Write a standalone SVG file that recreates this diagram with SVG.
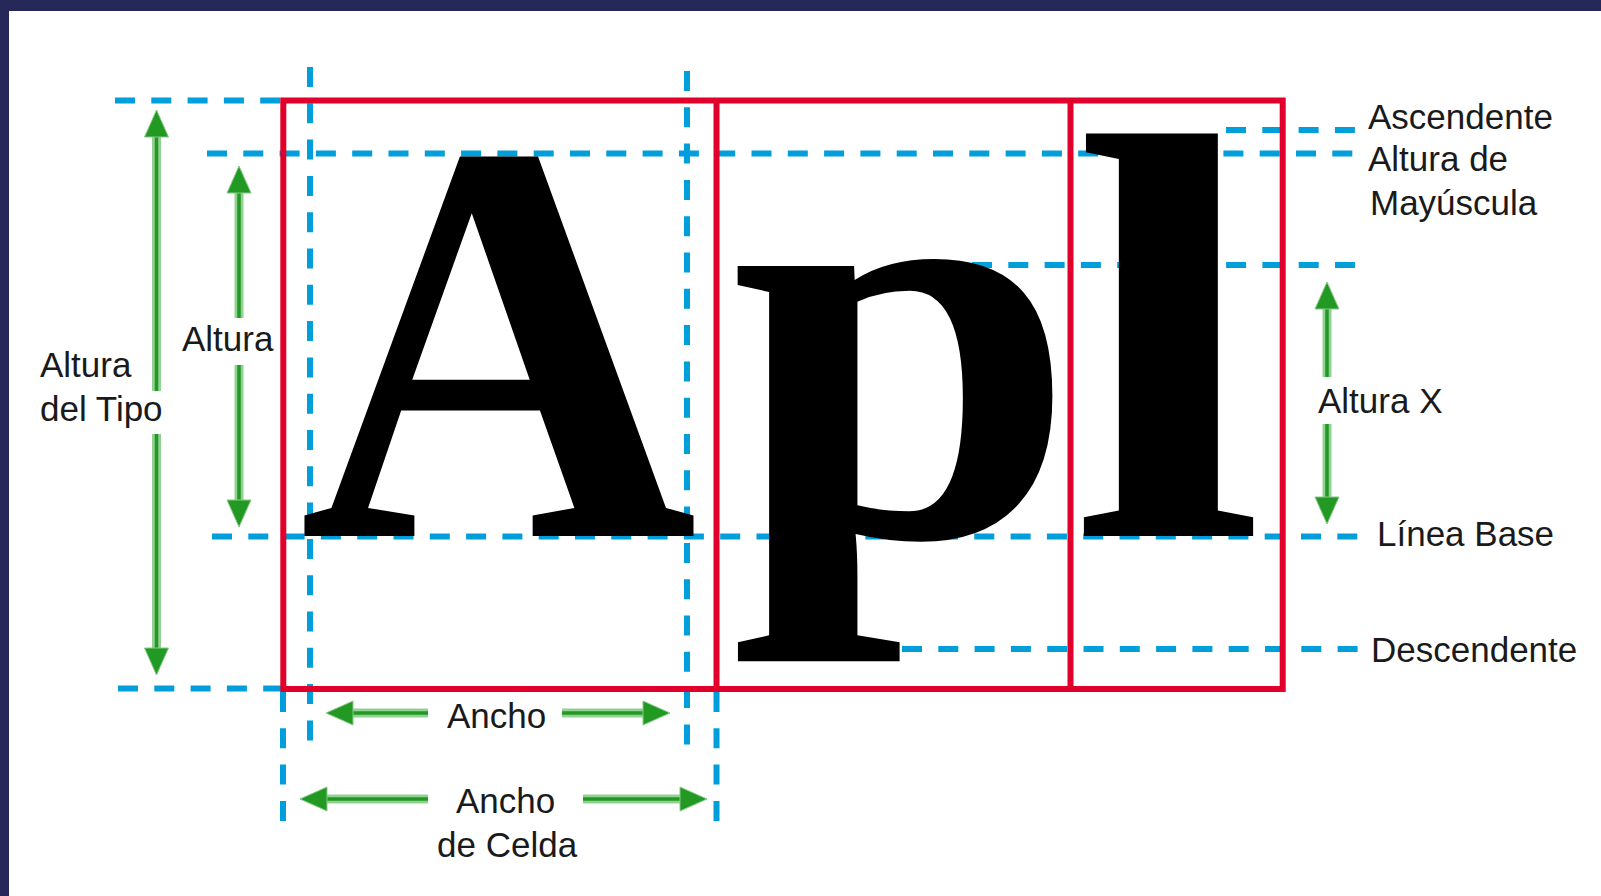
<svg xmlns="http://www.w3.org/2000/svg" width="1601" height="896" viewBox="0 0 1601 896">
<style>
.frame{fill:#26285a}
.cell{fill:none;stroke:#e1002a;stroke-width:6}
.guide{fill:none;stroke:#009edb;stroke-width:6;stroke-dasharray:20 16.3}
.glyph{font-family:"Liberation Serif","Times New Roman",serif;font-weight:bold;fill:#000}
.lbl{font-family:"Liberation Sans",Arial,sans-serif;font-size:35px;fill:#1a1a1a}
.halo{fill:none;stroke:#93d093;stroke-width:9}
.core{fill:none;stroke:#229922;stroke-width:3.5;marker-end:url(#ah)}
</style>
<defs>
<marker id="ah" markerUnits="userSpaceOnUse" viewBox="0 0 27 24" markerWidth="27" markerHeight="24" refX="0" refY="12" orient="auto" overflow="visible">
<path d="M0,0 L27,12 L0,24 z" fill="#229922" stroke="#86c986" stroke-width="1"/>
</marker>
</defs>
<rect width="1601" height="896" fill="#ffffff"/>
<rect class="frame" x="0" y="0" width="1601" height="11"/>
<rect class="frame" x="0" y="0" width="9" height="896"/>

<g id="guides">
<path class="guide" d="M115,100.5 H282"/>
<path class="guide" d="M207,153.5 H1356"/>
<path class="guide" d="M1226,130 H1356"/>
<path class="guide" d="M972,265 H1356"/>
<path class="guide" d="M212,536.5 H1360"/>
<path class="guide" d="M902,649 H1360"/>
<path class="guide" d="M118,688.5 H282"/>
<path class="guide" d="M310,67 V743"/>
<path class="guide" d="M687,71 V745"/>
<path class="guide" d="M283,692 V821"/>
<path class="guide" d="M716.5,692 V821"/>
</g>

<g id="glyph-A"><text class="glyph" transform="translate(303,536) scale(0.98,1.021)" x="-4" y="0" font-size="563">A</text></g>
<g id="glyph-p"><text class="glyph" transform="translate(737,536) scale(1.043,0.98)" x="-7" y="0" font-size="600">p</text></g>
<g id="glyph-l"><text class="glyph" transform="translate(1084,536) scale(1.179,0.975)" x="-11.7" y="0" font-size="595">l</text></g>

<g id="cells">
<rect class="cell" x="283.3" y="100.5" width="999.4" height="588.5"/>
<path class="cell" d="M716.5,100.5 V689 M1070.5,100.5 V689"/>
</g>

<g id="arrows">
<path class="halo" d="M156.5,391 V137"/><path class="core" d="M156.5,391 V137"/>
<path class="halo" d="M156.5,434 V648"/><path class="core" d="M156.5,434 V648"/>
<path class="halo" d="M239,318 V193"/><path class="core" d="M239,318 V193"/>
<path class="halo" d="M239,365 V500"/><path class="core" d="M239,365 V500"/>
<path class="halo" d="M1327,377 V309"/><path class="core" d="M1327,377 V309"/>
<path class="halo" d="M1327,424 V497"/><path class="core" d="M1327,424 V497"/>
<path class="halo" d="M428,713 H353"/><path class="core" d="M428,713 H353"/>
<path class="halo" d="M562,713 H643"/><path class="core" d="M562,713 H643"/>
<path class="halo" d="M428,799 H327"/><path class="core" d="M428,799 H327"/>
<path class="halo" d="M583,799 H680"/><path class="core" d="M583,799 H680"/>
</g>

<g id="label-altura-tipo"><text class="lbl" x="40" y="377">Altura</text><text class="lbl" x="40" y="421">del Tipo</text></g>
<g id="label-altura"><text class="lbl" x="182" y="351">Altura</text></g>
<g id="label-ascendente"><text class="lbl" x="1368" y="129">Ascendente</text></g>
<g id="label-altura-mayuscula"><text class="lbl" x="1368" y="171">Altura de</text><text class="lbl" x="1370" y="215">Mayúscula</text></g>
<g id="label-altura-x"><text class="lbl" x="1318" y="413">Altura X</text></g>
<g id="label-linea-base"><text class="lbl" x="1377" y="546">Línea Base</text></g>
<g id="label-descendente"><text class="lbl" x="1371" y="662">Descendente</text></g>
<g id="label-ancho"><text class="lbl" x="447" y="728">Ancho</text></g>
<g id="label-ancho-celda"><text class="lbl" x="456" y="813">Ancho</text><text class="lbl" x="437" y="857">de Celda</text></g>
</svg>
